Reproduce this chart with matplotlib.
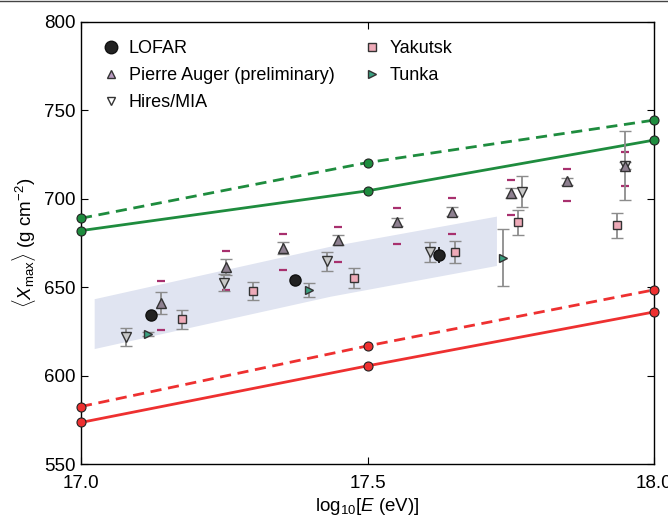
import matplotlib
matplotlib.use("Agg")
import matplotlib.pyplot as plt
from matplotlib.lines import Line2D

plt.rcParams['font.family'] = ['Liberation Sans', 'DejaVu Sans']
plt.rcParams['mathtext.fontset'] = 'custom'
plt.rcParams['mathtext.rm'] = 'Liberation Sans'
plt.rcParams['mathtext.it'] = 'Liberation Sans:italic'

# model lines (proton = red, iron = green)
model_E = [17.0, 17.5, 18.0]
iron_dashed = [689.0, 720.5, 744.5]
iron_solid = [682.0, 704.5, 733.2]
proton_dashed = [582.5, 616.8, 648.5]
proton_solid = [573.5, 605.5, 636.0]

# shaded band
band_E = [17.023, 17.435, 17.725]
band_top = [643.5, 673.2, 690.2]
band_bot = [615.3, 644.9, 662.3]

lofar_E = [17.123, 17.374, 17.625]
lofar_X = [634.1, 653.8, 668.4]
lofar_err = [3.0, 3.0, 4.5]

auger_E = [17.14, 17.2525, 17.353, 17.449, 17.551, 17.648, 17.75, 17.849, 17.949]
auger_X = [641.2, 661.4, 672.1, 676.8, 686.8, 692.8, 703.2, 709.8, 718.8]
auger_err = [6.3, 4.5, 3.6, 3.0, 2.4, 2.6, 2.8, 2.0, 2.0]
auger_sys_up = [12.3, 9.0, 8.1, 7.5, 8.1, 7.8, 7.7, 7.1, 7.6]
auger_sys_lo = [15.2, 13.2, 12.6, 12.6, 12.2, 12.6, 12.3, 11.3, 11.3]

hires_E = [17.0785, 17.2496, 17.429, 17.609, 17.769, 17.949]
hires_X = [621.9, 652.5, 664.6, 669.9, 704.1, 718.8]
hires_err = [5.2, 4.8, 5.5, 5.6, 9.0, 19.5]

yakutsk_E = [17.176, 17.2996, 17.476, 17.6527, 17.763, 17.935]
yakutsk_X = [631.8, 647.8, 655.2, 669.9, 686.8, 684.9]
yakutsk_err = [5.4, 5.0, 5.8, 6.2, 7.1, 7.0]

tunka_E = [17.1175, 17.398, 17.737]
tunka_X = [623.6, 648.2, 666.7]
tunka_err = [1.0, 4.0, 16.0]

green = '#1e8c3e'
red = '#ee3030'
ecol = '#8c8c8c'
sysc = '#a8306e'

fig = plt.figure(figsize=(6.68, 5.19), dpi=100)
ax = fig.add_axes([81/668, 1-464/519, (654-81)/668, (464-22)/519])

ax.fill_between(band_E, band_bot, band_top, color='#e0e4f1', lw=0, zorder=1)

for ys, ls in [(iron_dashed, (0, (4, 2.4))), (iron_solid, '-')]:
    ax.plot(model_E, ys, color=green, lw=2, ls=ls, marker='o', ms=6.5,
            mfc=green, mec='#222', mew=0.8, zorder=3, clip_on=False)
for ys, ls in [(proton_dashed, (0, (4, 2.4))), (proton_solid, '-')]:
    ax.plot(model_E, ys, color=red, lw=2, ls=ls, marker='o', ms=6.5,
            mfc=red, mec='#222', mew=0.8, zorder=3, clip_on=False)

ekw = dict(ls='none', ecolor=ecol, elinewidth=1.3, capsize=4, capthick=1.3, zorder=4)

# Auger systematics
sys_hi = [x + s for x, s in zip(auger_X, auger_sys_up)]
sys_lo = [x - s for x, s in zip(auger_X, auger_sys_lo)]
ax.plot(auger_E, sys_hi, ls='none', marker='_', ms=6, mew=1.6, color=sysc, zorder=4)
ax.plot(auger_E, sys_lo, ls='none', marker='_', ms=6, mew=1.6, color=sysc, zorder=4)

ax.errorbar(hires_E, hires_X, yerr=hires_err, marker='v', ms=7, mfc='#c8c8c8',
            mec='#333', mew=1, **ekw)
ax.errorbar(auger_E, auger_X, yerr=auger_err, marker='^', ms=6.5, mfc='#8e8090',
            mec='#333', mew=1, **ekw)
ax.errorbar(yakutsk_E, yakutsk_X, yerr=yakutsk_err, marker='s', ms=6, mfc='#eeaab8',
            mec='#333', mew=1, **ekw)
ax.errorbar(tunka_E, tunka_X, yerr=tunka_err, marker='>', ms=5.5, mfc='#3aa080',
            mec='#333', mew=1, **ekw)
ax.errorbar(lofar_E, lofar_X, yerr=lofar_err, marker='o', ms=8, mfc='#222',
            mec='#111', mew=1, ls='none', ecolor='#111', elinewidth=1.3, capsize=0, zorder=5)

ax.set_xlim(17.0, 18.0)
ax.set_ylim(550, 800)
ax.set_xticks([17.0, 17.5, 18.0])
ax.set_xticklabels(['17.0', '17.5', '18.0'])
ax.set_yticks([550, 600, 650, 700, 750, 800])
ax.tick_params(direction='in', length=5, width=0.8, labelsize=13.5, top=True, right=True, pad=4)
ax.tick_params(axis='x', pad=8)
for s in ax.spines.values():
    s.set_linewidth(1.0)

ax.set_xlabel(r'log$_{10}$[$E$ (eV)]', fontsize=13.5, labelpad=3)
ax.set_ylabel(r'$\langle X_{\rm max}\rangle$ (g cm$^{-2}$)', fontsize=13.5, labelpad=4)

h1 = [Line2D([], [], ls='none', marker='o', ms=9, mfc='#222', mec='#111'),
      Line2D([], [], ls='none', marker='^', ms=5.5, mfc='#b89ac0', mec='#333'),
      Line2D([], [], ls='none', marker='v', ms=5.5, mfc='white', mec='#333')]
h2 = [Line2D([], [], ls='none', marker='s', ms=6, mfc='#eeaab8', mec='#333'),
      Line2D([], [], ls='none', marker='>', ms=5.5, mfc='#3aa080', mec='#333')]
leg1 = ax.legend(h1, ['LOFAR', 'Pierre Auger (preliminary)', 'Hires/MIA'],
                 loc='upper left', bbox_to_anchor=(0.008, 0.995), frameon=False,
                 fontsize=13, handlelength=1.0, handletextpad=0.5, labelspacing=0.55)
ax.add_artist(leg1)
ax.legend(h2, ['Yakutsk', 'Tunka'], loc='upper left', bbox_to_anchor=(0.463, 0.995),
          frameon=False, fontsize=13, handlelength=1.0, handletextpad=0.5, labelspacing=0.55)

fig.add_artist(Line2D([0, 1], [0.999, 0.999], transform=fig.transFigure, color='#444', lw=1))

fig.savefig('out.png', dpi=100)
